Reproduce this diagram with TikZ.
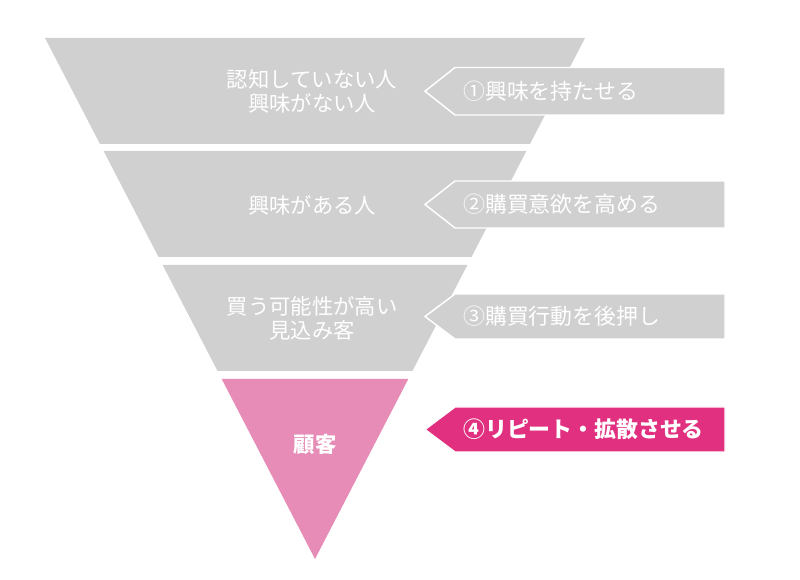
\documentclass[tikz,border=0pt]{standalone}
\usepackage{fontspec}
\newfontfamily\jpfont{Noto Sans CJK JP}
\usetikzlibrary{positioning}
\definecolor{bandgray}{HTML}{D0D0D0}
\definecolor{bandpink}{HTML}{E68CB6}
\definecolor{tagpink}{HTML}{E0307F}

\begin{document}
\begin{tikzpicture}[x = 0.75pt, y = -0.75pt,
	band/.style = {fill = bandgray},
	tag/.style = {fill = bandgray, draw = white, line width = 1.1pt},
	bandtext/.style = {text = white, align = center, inner sep = 0pt, font = \jpfont\fontsize{16}{18}\selectfont},
	tagtext/.style = {text = white, anchor = west, inner sep = 0pt, font = \jpfont\fontsize{16.4}{18}\selectfont}]
	\useasboundingbox (0, 0) rectangle (800, 580);
	% funnel
	\fill [band] (45, 38) -- (585, 38) -- (530, 144) -- (100, 144) -- cycle;
	\fill [band] (103.6, 151) -- (526.4, 151) -- (471.5, 257) -- (158.5, 257) -- cycle;
	\fill [band] (162.6, 265) -- (467.4, 265) -- (412.4, 371) -- (217.6, 371) -- cycle;
	\fill [band, fill = bandpink] (221.7, 379) -- (408.3, 379) -- (315, 559) -- cycle;
	\node [bandtext] (unaware) at (312, 91) {認知していない人\\興味がない人};
	\node [bandtext] (interested) at (312, 205) {興味がある人};
	\node [bandtext] (prospect) at (312, 318) {買う可能性が高い\\見込み客};
	\node [bandtext, font = \jpfont\bfseries\fontsize{16}{18}\selectfont] (customer) at (315, 444) {顧客};
	% tags
	\foreach \ytop / \ybot / \name in {67.5/115/one, 181/228/two, 294/339/three, 407/452/four} {
		\coordinate (tip-\name) at (425, {(\ytop + \ybot) / 2});
	}
	\draw [tag] (tip-one) -- (455, 67.5) -- (725, 67.5) -- (725, 115) -- (455, 115) -- cycle;
	\draw [tag] (tip-two) -- (455, 181) -- (725, 181) -- (725, 228) -- (455, 228) -- cycle;
	\draw [tag] (tip-three) -- (455, 294) -- (725, 294) -- (725, 339) -- (455, 339) -- cycle;
	\draw [tag, fill = tagpink] (tip-four) -- (455, 407) -- (725, 407) -- (725, 452) -- (455, 452) -- cycle;
	\node [tagtext] (step-one) at (463, 91.25) {①興味を持たせる};
	\node [tagtext] (step-two) at (463, 204.5) {②購買意欲を高める};
	\node [tagtext] (step-three) at (463, 316.5) {③購買行動を後押し};
	\node [tagtext, font = \jpfont\bfseries\fontsize{16.4}{18}\selectfont] (step-four) at (463, 429.5) {④リピート・拡散させる};
\end{tikzpicture}
\end{document}
